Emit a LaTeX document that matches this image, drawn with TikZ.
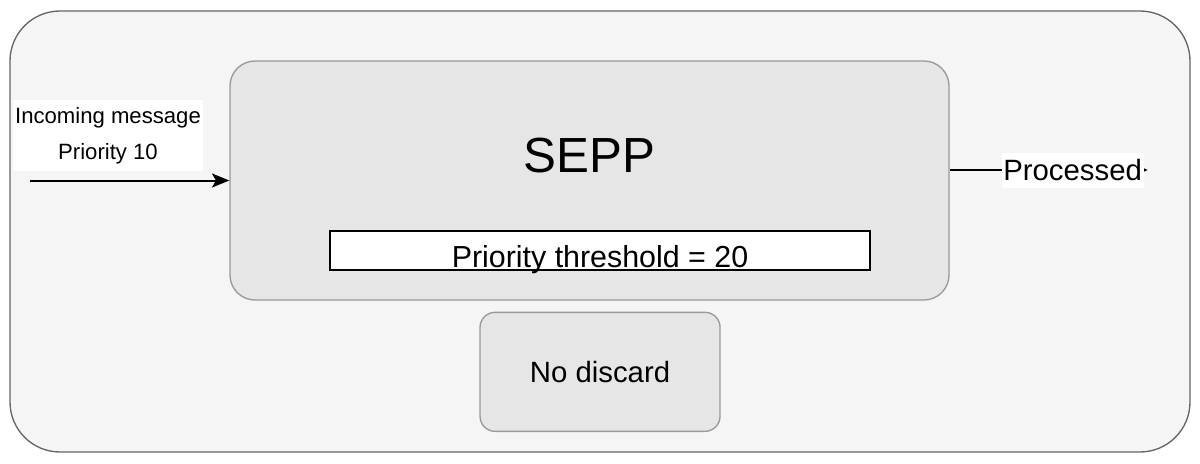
\documentclass[tikz,border=0pt]{standalone}
\usepackage{fontspec}
\setmainfont{Liberation Sans}
\usetikzlibrary{arrows,arrows.meta,positioning,calc}
\definecolor{outerfill}{HTML}{F5F5F5}
\definecolor{outerline}{HTML}{666666}
\definecolor{boxfill}{HTML}{E6E6E6}
\definecolor{boxline}{HTML}{999999}

\begin{document}
\begin{tikzpicture}[x=0.75pt, y=-0.75pt]
\tikzstyle{main}=[rectangle, rounded corners=18.75pt, draw=boxline, fill=boxfill, line width=1pt, inner sep=0pt]
\tikzstyle{frame}=[main, rounded corners=37.5pt, draw=outerline, fill=outerfill]
\tikzstyle{rect}=[rectangle, draw=black, fill=white, line width=1.3pt, inner sep=0pt]
\tikzstyle{tag}=[rectangle, fill=white, inner sep=0pt]
\tikzstyle{connect}=[-{Stealth[length=13pt, width=10.5pt, inset=3pt]}, line width=1.5pt]

  \useasboundingbox (0,0) rectangle (1200,464);

  \node[frame] (system) at (600,231.5) [minimum width=885pt, minimum height=330.75pt] {};

  \node[main] (sepp) at (589.5,180.5)
    [text height=83.25pt, text depth=96pt, minimum width=539.25pt, font=\fontsize{37}{40}\selectfont] {SEPP};
  \node[rect] (threshold) [above=22.5pt of sepp.south, xshift=7.9pt, minimum width=405pt,
    text height=27.75pt, text depth=1.5pt, font=\fontsize{22.8}{26}\selectfont] {Priority threshold = 20};
  \node[main] (nodiscard) [below=8.25pt of sepp.south, xshift=7.9pt, rounded corners=11.25pt,
    minimum width=180pt, minimum height=89.25pt, font=\fontsize{22}{26}\selectfont] {No discard};

  \node[tag] (incoming) at (108,135.5) [minimum width=142.5pt, minimum height=53.25pt, align=center,
    font=\fontsize{16.6}{27}\selectfont] {Incoming message\\Priority 10};
  \coordinate (msgin) at (30,180.5);
  \coordinate (msgout) at (1148,170);

  \draw [connect] (msgin) -- (sepp.west);
  \draw [-{Latex[length=4pt, width=4pt]}, line width=1pt] ($(sepp.east)+(0,-10.5)$) -- node [tag, pos=0.62,
    minimum width=106.5pt, minimum height=26.25pt, font=\fontsize{22}{26}\selectfont] {Processed} (msgout);

\end{tikzpicture}
\end{document}
